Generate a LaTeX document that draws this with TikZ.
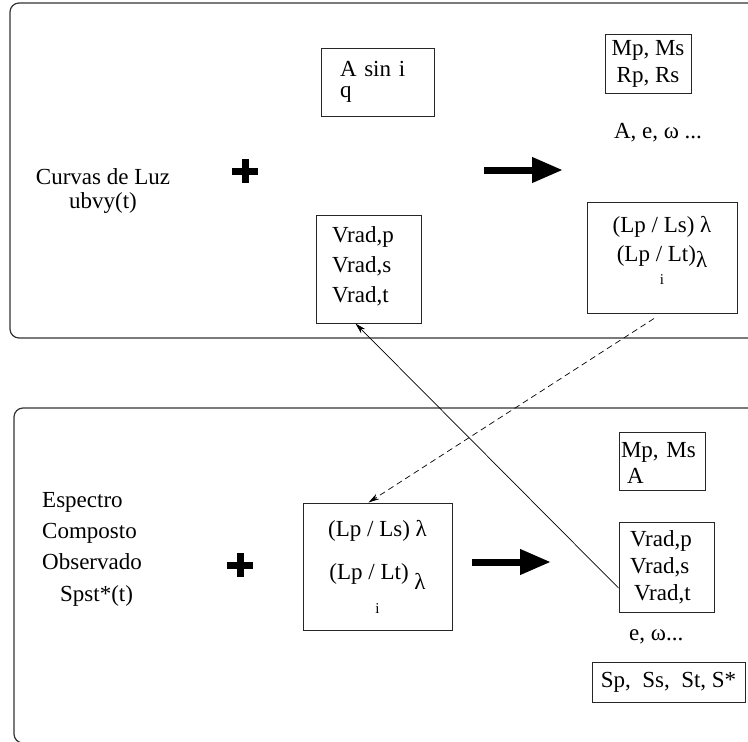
\documentclass[tikz,border=0pt]{standalone}
\usepackage{fontspec}
\setmainfont{Liberation Serif}
\usetikzlibrary{arrows.meta}

\tikzset{
  panel/.style={draw=black!80, line width=1.2pt, rounded corners=9pt},
  box/.style={draw=black!85, line width=1pt, inner sep=0pt},
  txt/.style={inner sep=0pt},
  link/.style={line width=0.7pt, -{Stealth[length=11pt,width=6pt]}},
  plussign/.style={line width=7pt},
  bigarrow/.style={line width=7pt, -{Triangle[length=31pt,width=24pt]}}
}

\begin{document}
\begin{tikzpicture}[x=1pt, y=-1pt, font=\fontsize{23}{27}\selectfont]
            \useasboundingbox (0,0) rectangle (748,742);
            \clip (0,0) rectangle (748,742);
            % Panels
            \draw[panel] (10,3) rectangle (790,338);
            \draw[panel] (14,408) rectangle (790,743);
            % Top panel
            \node[txt, align=center, font=\fontsize{23}{24}\selectfont]
            (lightcurve) at (103,191) {Curvas de Luz\\ubvy(t)};
            \node[box, minimum width=113pt, minimum height=68pt, text width=75pt,
            align=left, font=\fontsize{23}{21}\selectfont]
            (asini) at (377.5,82) {A sin i\\q};
            \node[box, minimum width=105pt, minimum height=108pt, text width=73pt,
            align=left, font=\fontsize{23}{30}\selectfont]
            (vradTop) at (368.5,269) {Vrad,p\\Vrad,s\\\raisebox{0pt}[\height][9pt]{Vrad,t}};
            \node[box, minimum width=86pt, minimum height=59pt, align=center]
            (masses) at (648,63.5) {Mp, Ms\\Rp, Rs};
            \node[txt, anchor=base] (orbTop) at (658,138) {A, e, ω ...};
            \node[box, minimum width=150pt, minimum height=111pt, align=center,
            font=\fontsize{23}{29}\selectfont]
            (lamTop) at (662,257.5) {(Lp / Ls) λ\\(Lp / Lt)\raisebox{-6pt}{λ}\\[-6pt]
            \raisebox{0pt}[\height][15pt]{\fontsize{15}{15}\selectfont i}};
            % Bottom panel
            \node[txt, anchor=west, align=left, font=\fontsize{23}{31.3}\selectfont]
            (spectrum) at (42,549) {Espectro\\Composto\\Observado\\\hspace*{18pt}Spst*(t)};
            \node[box, minimum width=149pt, minimum height=127pt, align=center,
            font=\fontsize{23}{43}\selectfont]
            (lamBot) at (377.5,566.5) {(Lp / Ls) λ\\(Lp / Lt) \raisebox{-10pt}{λ}\\[-9pt]
            {\fontsize{15}{15}\selectfont i}};
            \node[box, minimum width=86pt, minimum height=58pt, text width=82pt,
            align=left, font=\fontsize{23}{26}\selectfont]
            (massBot) at (662,461) {\rule{0pt}{19pt}Mp, Ms\\\hspace*{6pt}A};
            \node[box, minimum width=95pt, minimum height=90pt, text width=73pt,
            align=left]
            (vradBot) at (666.5,567) {Vrad,p\\Vrad,s\\\hspace*{4pt}Vrad,t};
            \node[txt, anchor=base west] (orbBot) at (629,640) {e, ω...};
            \node[box, minimum width=153pt, minimum height=40pt]
            (spectra) at (668.5,682) {Sp,\ \ Ss,\ \ St, S*};
            % Plus signs and arrows
            \foreach \px/\py in {245/171,240/565} {
                \draw[plussign] (\px-13,\py) -- (\px+13,\py) (\px,\py-12) -- (\px,\py+12);
            }
            \foreach \ax/\ay in {484/170,472/562} {
                \draw[bigarrow] (\ax,\ay) -- (\ax+79,\ay);
            }
            % Links
            \draw[link, dash pattern=on 6pt off 4pt]
            ([xshift=-8pt, yshift=-5pt]lamTop.south) -- ([xshift=-9pt]lamBot.north);
            \draw[link] ([yshift=-21pt]vradBot.west) -- ([xshift=-13pt]vradTop.south);
        \end{tikzpicture}
\end{document}
